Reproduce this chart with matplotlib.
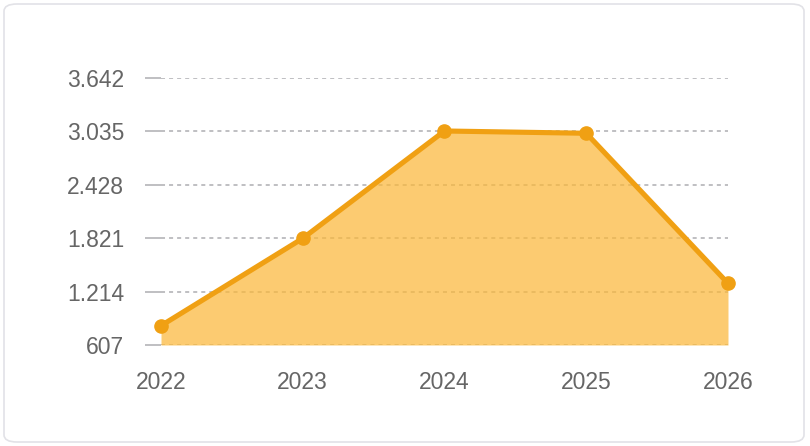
import matplotlib
matplotlib.use("Agg")
import matplotlib.pyplot as plt
from matplotlib.patches import FancyBboxPatch

years = ["2022", "2023", "2024", "2025", "2026"]
values = [826, 1818, 3037, 3011, 1307]
y_ticks = [607, 1214, 1821, 2428, 3035, 3642]

def fmt(v):
    return f"{v:,}".replace(",", ".")

W, H = 810, 446
plt.rcParams['font.family'] = ['Liberation Sans', 'DejaVu Sans']
plt.rcParams['lines.scale_dashes'] = False
fig = plt.figure(figsize=(W / 100, H / 100), dpi=100)

card = FancyBboxPatch((4 / W, 4 / H), 800 / W, 438 / H,
                      boxstyle="round,pad=0,rounding_size=0.016",
                      transform=fig.transFigure, facecolor="white",
                      edgecolor="#e2e2e7", linewidth=1.2, zorder=-10)
fig.patches.append(card)

ax = fig.add_axes([161 / W, (H - 345) / H, 567 / W, 267.3 / H])
ax.set_zorder(5)
ax.set_facecolor("none")
x = list(range(len(years)))
ax.set_xlim(0, len(years) - 1)
ax.set_ylim(y_ticks[0], y_ticks[-1])

ax.fill_between(x, values, y_ticks[0], color="#fbb83a", alpha=0.72, linewidth=0, zorder=2)
ax.plot(x, values, color="#f0a013", linewidth=3.7, zorder=3, solid_joinstyle="round",
        marker="o", markersize=9.5, markerfacecolor="#f0a013", markeredgecolor="#f0a013",
        clip_on=False)

ax.set_yticks(y_ticks)
ax.set_yticklabels([fmt(v) for v in y_ticks])
ax.set_xticks(x)
ax.set_xticklabels(years)
ax.grid(axis="y", color="#adadb2", linewidth=1.1, linestyle=(0, (2.9, 2.9)), zorder=1)
ax.set_axisbelow(True)
ax.tick_params(axis="y", length=11.5, width=1.1, color="#adadb2", pad=15,
               labelsize=16.5, labelcolor="#666666")
ax.tick_params(axis="x", length=0, pad=19, labelsize=16.5, labelcolor="#666666")
for s in ax.spines.values():
    s.set_visible(False)

fig.savefig("out.png", dpi=100)
